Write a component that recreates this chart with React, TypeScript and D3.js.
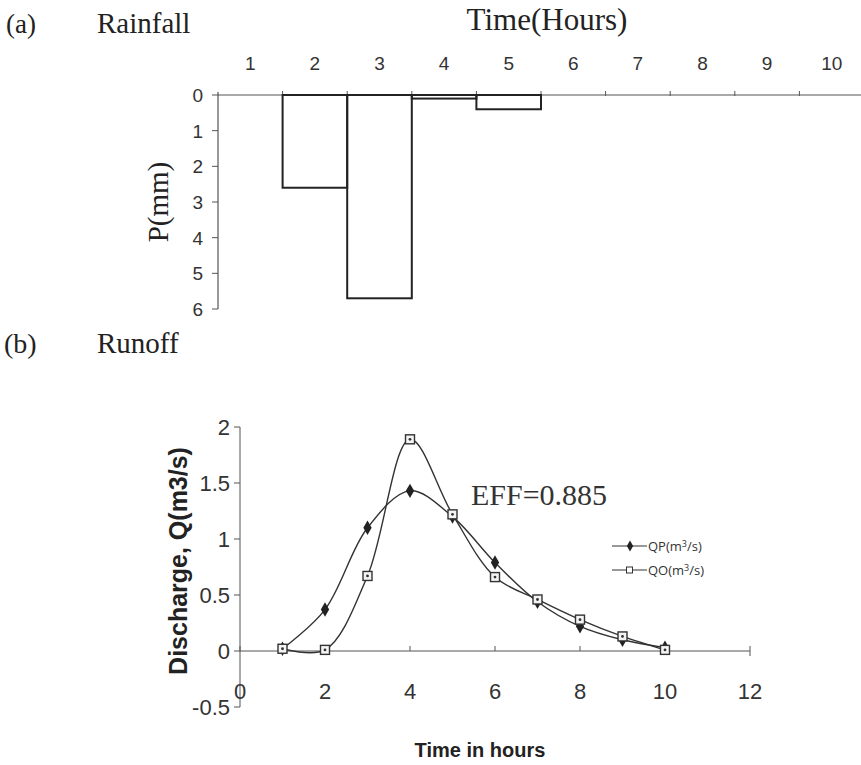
import React from "react";
import * as d3 from "d3";

const hours = [1, 2, 3, 4, 5, 6, 7, 8, 9, 10];
const rainfall = [0, 2.6, 5.7, 0.1, 0.4, 0, 0, 0, 0, 0];
const rainTicks = [0, 1, 2, 3, 4, 5, 6];

const runoffTimes = [1, 2, 3, 4, 5, 6, 7, 8, 9, 10];
const qp = [0.02, 0.37, 1.1, 1.43, 1.2, 0.79, 0.44, 0.22, 0.1, 0.03];
const qo = [0.02, 0.01, 0.67, 1.89, 1.22, 0.66, 0.46, 0.28, 0.13, 0.01];
const qTicks = [-0.5, 0, 0.5, 1, 1.5, 2];
const tTicks = [0, 2, 4, 6, 8, 10, 12];

const W = 861;
const H = 765;
const serif = "'Liberation Serif', 'DejaVu Serif', serif";
const sans = "'Liberation Sans', Arial, sans-serif";

export default function App() {
  // Rainfall scales
  const xr = d3.scaleBand<number>().domain(hours).range([218, 864]).paddingInner(0).paddingOuter(0);
  const yr = d3.scaleLinear().domain([0, 6]).range([95, 309]);

  // Runoff scales
  const xq = d3.scaleLinear().domain([0, 12]).range([240, 750]);
  const yq = d3.scaleLinear().domain([-0.5, 2]).range([707, 427]);

  const line = d3
    .line<number>()
    .x((_, i) => xq(runoffTimes[i]))
    .y((d) => yq(d))
    .curve(d3.curveCatmullRom.alpha(0.5));

  const diamond = d3.symbol().type(d3.symbolDiamond).size(60)();

  return (
    <svg
      width={W}
      height={H}
      style={{ position: "absolute", left: 0, top: 0, background: "#fff" }}
    >
      {/* ===== (a) Rainfall ===== */}
      <text x={6} y={33} fontFamily={serif} fontSize={27} fill="#222">(a)</text>
      <text x={97} y={33} fontFamily={serif} fontSize={29} fill="#222">Rainfall</text>
      <text x={547} y={30} textAnchor="middle" fontFamily={serif} fontSize={31} fill="#222">Time(Hours)</text>
      {hours.map((h) => (
        <text key={"hl" + h} x={xr(h)! + xr.bandwidth() / 2} y={70} textAnchor="middle" fontFamily={sans} fontSize={19} fill="#333">
          {h}
        </text>
      ))}
      {/* zero line */}
      <line x1={xr.range()[0]} x2={W} y1={yr(0)} y2={yr(0)} stroke="#555" strokeWidth={1.2} />
      {/* top axis ticks at bin boundaries */}
      {hours.map((h) => (
        <line key={"ht" + h} x1={xr(h)! + xr.bandwidth()} x2={xr(h)! + xr.bandwidth()} y1={yr(0) - 4} y2={yr(0) + 1} stroke="#555" strokeWidth={1} />
      ))}
      {/* left axis */}
      <line x1={218} x2={218} y1={yr(0) - 3} y2={yr(6)} stroke="#555" strokeWidth={1.2} />
      {rainTicks.map((t) => (
        <g key={"rt" + t}>
          <line x1={212} x2={218} y1={yr(t)} y2={yr(t)} stroke="#555" strokeWidth={1} />
          <text x={203} y={yr(t) + 7} textAnchor="end" fontFamily={sans} fontSize={19} fill="#333">
            {t}
          </text>
        </g>
      ))}
      <text transform={`translate(168,${202}) rotate(-90)`} textAnchor="middle" fontFamily={serif} fontSize={29} fill="#222">
        P(mm)
      </text>
      {/* bars */}
      {hours.map((h, i) =>
        rainfall[i] > 0 ? (
          <rect
            key={"bar" + h}
            x={xr(h)!}
            y={yr(0)}
            width={xr.bandwidth()}
            height={yr(rainfall[i]) - yr(0)}
            fill="none"
            stroke="#222"
            strokeWidth={2}
          />
        ) : null
      )}

      {/* ===== (b) Runoff ===== */}
      <text x={4} y={353} fontFamily={serif} fontSize={28} fill="#222">(b)</text>
      <text x={97} y={353} fontFamily={serif} fontSize={29} fill="#222">Runoff</text>

      {/* y axis */}
      <line x1={xq(0)} x2={xq(0)} y1={yq(2)} y2={yq(-0.5)} stroke="#555" strokeWidth={1} />
      {qTicks.map((t) => (
        <g key={"qt" + t}>
          <line x1={xq(0) - 6} x2={xq(0)} y1={yq(t)} y2={yq(t)} stroke="#555" strokeWidth={1} />
          <text x={xq(0) - 10} y={yq(t) + 8} textAnchor="end" fontFamily={sans} fontSize={22} fill="#333">
            {t}
          </text>
        </g>
      ))}
      {/* x axis at 0 */}
      <line x1={xq(0)} x2={xq(12)} y1={yq(0)} y2={yq(0)} stroke="#555" strokeWidth={1} />
      {tTicks.map((t) => (
        <g key={"tt" + t}>
          <line x1={xq(t)} x2={xq(t)} y1={yq(0) - 5} y2={yq(0) + (t === 12 ? 5 : 0)} stroke="#555" strokeWidth={1} />
          <text x={xq(t)} y={yq(0) + 48} textAnchor="middle" fontFamily={sans} fontSize={22} fill="#333">
            {t}
          </text>
        </g>
      ))}
      <text
        transform={`translate(187,${561}) rotate(-90)`}
        textAnchor="middle"
        fontFamily={sans}
        fontSize={25}
        fontWeight="bold"
        fill="#222"
      >
        Discharge, Q(m3/s)
      </text>
      <text x={480} y={757} textAnchor="middle" fontFamily={sans} fontSize={20} fontWeight="bold" fill="#222">
        Time in hours
      </text>
      <text x={471} y={505} fontFamily={serif} fontSize={30} fill="#333">EFF=0.885</text>

      {/* lines */}
      <path d={line(qp) ?? ""} fill="none" stroke="#333" strokeWidth={1.4} />
      <path d={line(qo) ?? ""} fill="none" stroke="#333" strokeWidth={1.4} />
      {qp.map((v, i) => (
        <path key={"dp" + i} d={diamond ?? ""} transform={`translate(${xq(runoffTimes[i])},${yq(v)})`} fill="#222" />
      ))}
      {qo.map((v, i) => (
        <g key={"sq" + i} transform={`translate(${xq(runoffTimes[i])},${yq(v)})`}>
          <rect x={-4.5} y={-4.5} width={9} height={9} fill="#f4f4f4" stroke="#333" strokeWidth={1.4} />
          <circle r={1.4} fill="#333" />
        </g>
      ))}

      {/* legend */}
      <g fontFamily="'Open Sans', sans-serif" fontSize={13} fill="#333">
        <line x1={612} x2={647} y1={546} y2={546} stroke="#333" strokeWidth={1} />
        <path d={d3.symbol().type(d3.symbolDiamond).size(34)() ?? ""} transform="translate(630,546)" fill="#222" />
        <text x={648} y={551}>
          QP(m<tspan fontSize={9} dy={-4}>3</tspan><tspan dy={4}>/s)</tspan>
        </text>
        <line x1={612} x2={647} y1={570} y2={570} stroke="#333" strokeWidth={1} />
        <rect x={626.5} y={567} width={6} height={6} fill="#fff" stroke="#333" strokeWidth={1} />
        <text x={648} y={575}>
          QO(m<tspan fontSize={9} dy={-4}>3</tspan><tspan dy={4}>/s)</tspan>
        </text>
      </g>
    </svg>
  );
}
